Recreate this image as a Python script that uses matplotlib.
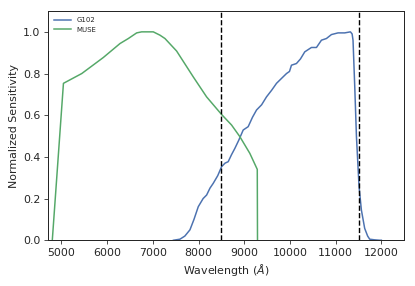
import matplotlib
matplotlib.use("Agg")
from matplotlib import pyplot as plt

# G102 grism throughput (normalized)
g102_wave = [7450, 7593, 7700, 7812, 7900, 7994, 8100, 8177, 8250, 8321, 8420,
             8504, 8580, 8649, 8720, 8795, 8880, 8977, 9086, 9180, 9269, 9380,
             9487, 9600, 9706, 9850, 9925, 9990, 10033, 10142, 10230, 10324,
             10400, 10470, 10580, 10689, 10798, 10908, 11052, 11198, 11323,
             11360, 11380, 11418, 11455, 11512, 11563, 11635, 11700, 11745,
             11850, 11963, 12000]
g102_sens = [0.0, 0.005, 0.02, 0.05, 0.10, 0.161, 0.20, 0.217, 0.25, 0.273,
             0.31, 0.353, 0.37, 0.377, 0.41, 0.441, 0.48, 0.529, 0.545, 0.59,
             0.625, 0.65, 0.688, 0.72, 0.753, 0.784, 0.80, 0.81, 0.84, 0.848,
             0.87, 0.904, 0.915, 0.925, 0.925, 0.96, 0.968, 0.987, 0.995, 0.995,
             1.0, 0.99, 0.96, 0.736, 0.497, 0.257, 0.145, 0.057, 0.02, 0.005,
             0.002, 0.0, 0.0]

# MUSE throughput (normalized)
muse_wave = [4800, 5044, 5445, 5917, 6282, 6464, 6646, 6755, 7010, 7156, 7265,
             7520, 7884, 8176, 8502, 8722, 8904, 9122, 9285, 9290]
muse_sens = [0.0, 0.753, 0.80, 0.877, 0.944, 0.968, 0.995, 1.0, 1.0, 0.984,
             0.968, 0.908, 0.784, 0.688, 0.604, 0.553, 0.497, 0.417, 0.340, 0.0]

band_edges = [8500, 11500]
x_ticks = [5000, 6000, 7000, 8000, 9000, 10000, 11000, 12000]
y_ticks = [0.0, 0.2, 0.4, 0.6, 0.8, 1.0]

plt.rcParams.update({
    "axes.edgecolor": "0.15",
    "axes.linewidth": 1.0,
    "xtick.color": "0.15",
    "ytick.color": "0.15",
    "xtick.direction": "out",
    "ytick.direction": "out",
    "xtick.major.size": 4,
    "ytick.major.size": 4,
    "text.color": "0.15",
    "axes.labelcolor": "0.15",
    "font.size": 11,
})

fig = plt.figure(figsize=(415 / 72, 286 / 72), dpi=72)
ax = fig.add_axes([0.115, 0.160, 0.859, 0.8015])

ax.plot(g102_wave, g102_sens, color="#4C72B0", lw=1.5, label="G102")
ax.plot(muse_wave, muse_sens, color="#55A868", lw=1.5, label="MUSE")
for edge in band_edges:
    ax.axvline(edge, color="k", ls="--", lw=1.4)

ax.set_xlim(4700, 12500)
ax.set_ylim(0, 1.1)
ax.set_xticks(x_ticks)
ax.set_yticks(y_ticks)
ax.tick_params(labelsize=11)
ax.set_xlabel(r"Wavelength ($\AA$)", fontsize=11)
ax.set_ylabel("Normalized Sensitivity", fontsize=11)
ax.legend(loc="upper left", fontsize=7, frameon=False, handlelength=2.4)

fig.savefig("out.png", dpi=72)
